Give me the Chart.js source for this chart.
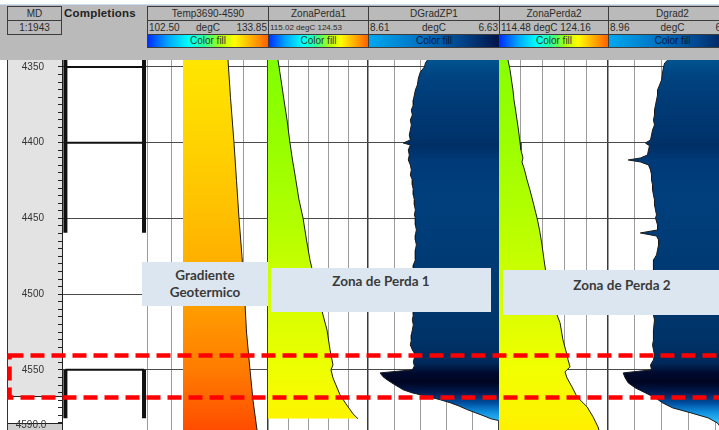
<!DOCTYPE html>
<html><head><meta charset="utf-8">
<script src="https://cdn.jsdelivr.net/npm/chart.js@4.4.1/dist/chart.umd.min.js"></script>
<style>
html,body{margin:0;padding:0;width:719px;height:430px;overflow:hidden;background:#fff;font-family:"Liberation Sans",Arial,sans-serif;}
.abs{position:absolute;}
.hb{position:absolute;border:1px solid #3c3c3c;box-sizing:border-box;font-size:10px;color:#2b2b2b;line-height:13px;text-align:center;white-space:nowrap;overflow:hidden;}
.row{display:flex;justify-content:space-between;padding:0 1px;}
.note{position:absolute;background:#dce6f1;font-family:Lato,"Open Sans",sans-serif;font-weight:bold;font-size:13.5px;color:#3a3a3a;text-align:center;line-height:17px;}
canvas{position:absolute;}
</style></head><body>
<div class="abs" style="left:0;top:4px;width:719px;height:1px;background:#c9def0"></div>
<div class="abs" style="left:0;top:5px;width:719px;height:55px;background:#bababa"></div>
<div class="abs" style="left:8px;top:60px;width:54px;height:337px;background:#e3e3e3"></div>
<div class="abs" style="left:8px;top:396px;width:54px;height:1px;background:#222"></div>
<div class="abs" style="left:7px;top:423px;width:55px;height:1px;background:#222"></div>
<div class="abs" style="left:8px;top:424px;width:54px;height:6px;background:#cfcfcf"></div>
<div class="abs" style="left:7px;top:60px;width:1px;height:370px;background:#333"></div>
<div id="hdr"></div>
<div id="charts"></div>
<div id="notes"></div>
<svg class="abs" style="left:0;top:0" width="719" height="430"><rect id="zone" x="9.5" y="355.5" width="800" height="42" fill="none" stroke="#ff0000" stroke-width="4.5" stroke-dasharray="14 7"/></svg>
<script>
// ---------------- data ----------------
const DEPTH_MIN = 4345.4, DEPTH_MAX = 4589.7;
const depthMajorStep = 50, depthMinorStep = 5;
const bottomDepthLabel = '4590.0';
const scaleLabel = '1:1943';
const trackNames = ['Temp3690-4590', 'ZonaPerda1', 'DGradZP1', 'ZonaPerda2', 'Dgrad2'];
const trackLeftValue = [102.50, 115.02, 8.61, 114.48, 8.96];
const trackRightValue = [133.85, 124.53, 6.63, 124.16, 6.98];
const trackLeftLabel = ['102.50', '115.02', '8.61', '114.48', '8.96'];
const trackRightLabel = ['133.85', '124.53', '6.63', '124.16', '6.98'];
const trackUnit = 'degC';
const fillLabel = 'Color fill';

const tempDepth = [4345.4, 4370, 4400, 4425, 4450, 4475, 4500, 4525, 4550, 4570, 4589.7];
const tempValues = [123.49, 124.13, 125.04, 125.69, 126.34, 127.11, 127.76, 128.28, 129.19, 129.96, 131.00];
const tempBase = 111.83;

const zp1Depth = [4345.4, 4358.6, 4371.8, 4385.0, 4400.2, 4411.4, 4421.3, 4437.8, 4449.7, 4464.2, 4477.4, 4497.2, 4513.7, 4523.6, 4536.8, 4546.7, 4550.0, 4555.3, 4566.5, 4572.5, 4579.0, 4582.3];
const zp1Values = [115.97, 116.26, 116.54, 116.83, 117.11, 117.35, 117.59, 117.97, 118.35, 118.68, 119.01, 119.68, 120.25, 120.63, 120.92, 121.20, 121.01, 121.20, 121.87, 122.44, 123.10, 123.58];

const dg1Depth = [4345.4, 4347.4, 4350.0, 4353.3, 4357.3, 4361.9, 4365.2, 4368.5, 4371.8, 4375.1, 4378.4, 4381.7, 4385.0, 4388.3, 4391.6, 4394.9, 4398.2, 4400.2, 4401.5, 4404.8, 4408.1, 4411.4, 4414.7, 4418.0, 4421.3, 4424.6, 4427.9, 4431.2, 4434.5, 4437.8, 4441.1, 4444.4, 4447.7, 4449.7, 4454.3, 4457.6, 4460.9, 4464.2, 4467.5, 4470.8, 4474.1, 4477.4, 4480.7, 4484.0, 4497.2, 4513.7, 4517.0, 4520.3, 4523.6, 4526.9, 4530.2, 4533.5, 4536.8, 4540.1, 4542.1, 4544.7, 4547.4, 4550.0, 4552.0, 4554.6, 4556.6, 4559.2, 4561.2, 4563.2, 4565.2, 4567.2, 4569.8, 4571.8, 4573.8, 4576.4, 4578.4, 4580.4, 4582.3, 4583.4];
const dg1Values = [7.711, 7.742, 7.757, 7.818, 7.848, 7.864, 7.894, 7.909, 7.925, 7.925, 7.955, 7.940, 7.970, 7.955, 7.970, 7.986, 7.970, 8.077, 7.970, 8.001, 7.986, 8.001, 7.970, 7.955, 7.970, 7.940, 7.940, 7.925, 7.925, 7.909, 7.909, 7.894, 7.909, 7.894, 7.894, 7.879, 7.894, 7.894, 7.879, 7.894, 7.894, 7.894, 7.925, 7.925, 7.925, 7.925, 7.940, 7.925, 7.940, 7.955, 7.955, 7.970, 7.940, 7.894, 7.909, 7.925, 7.909, 7.940, 8.427, 8.382, 8.321, 8.229, 8.153, 8.077, 7.940, 7.742, 7.513, 7.361, 7.239, 7.102, 6.980, 6.858, 6.752, 6.640];

const zp2Depth = [4345.4, 4352.0, 4358.6, 4365.2, 4371.8, 4378.4, 4385.0, 4391.6, 4400.2, 4404.8, 4410.1, 4412.7, 4418.0, 4424.6, 4431.2, 4437.8, 4444.4, 4449.7, 4457.6, 4467.5, 4477.4, 4484.0, 4497.2, 4513.7, 4518.9, 4530.2, 4540.1, 4543.4, 4548.0, 4551.3, 4555.3, 4561.2, 4567.8, 4574.4, 4581.0, 4587.6, 4589.7];
const zp2Values = [115.28, 115.46, 115.59, 115.72, 115.81, 115.95, 116.08, 116.21, 116.35, 116.43, 116.61, 116.52, 116.75, 116.97, 117.23, 117.46, 117.68, 117.86, 118.08, 118.30, 118.48, 118.61, 119.10, 119.63, 119.90, 120.16, 120.52, 120.61, 120.79, 120.34, 120.52, 120.96, 121.41, 122.30, 122.83, 123.27, 123.35];

const dg2Depth = [4345.4, 4347.4, 4350.0, 4353.3, 4358.6, 4361.9, 4365.2, 4368.5, 4371.8, 4375.1, 4378.4, 4381.7, 4385.0, 4388.3, 4391.6, 4394.9, 4398.2, 4400.2, 4402.1, 4404.8, 4408.1, 4410.1, 4411.4, 4412.7, 4414.7, 4418.0, 4421.3, 4424.6, 4427.9, 4431.2, 4434.5, 4437.8, 4441.1, 4444.4, 4447.7, 4449.7, 4454.3, 4457.6, 4459.6, 4461.6, 4464.2, 4467.5, 4470.8, 4474.1, 4477.4, 4480.7, 4484.0, 4497.2, 4513.7, 4517.0, 4523.6, 4530.2, 4533.5, 4536.8, 4540.1, 4543.4, 4546.7, 4550.0, 4552.0, 4555.3, 4558.6, 4561.9, 4565.2, 4568.5, 4571.8, 4575.1, 4578.4, 4581.7, 4585.0, 4588.3, 4589.7];
const dg2Values = [8.078, 8.123, 8.138, 8.153, 8.168, 8.198, 8.228, 8.228, 8.243, 8.258, 8.273, 8.273, 8.288, 8.273, 8.302, 8.317, 8.332, 8.407, 8.347, 8.362, 8.377, 8.482, 8.661, 8.482, 8.362, 8.332, 8.317, 8.317, 8.302, 8.302, 8.288, 8.273, 8.273, 8.258, 8.243, 8.258, 8.228, 8.228, 8.482, 8.243, 8.213, 8.213, 8.228, 8.243, 8.288, 8.288, 8.288, 8.288, 8.288, 8.273, 8.288, 8.288, 8.302, 8.288, 8.273, 8.288, 8.332, 8.317, 8.736, 8.706, 8.661, 8.557, 8.407, 8.258, 8.153, 8.004, 7.735, 7.481, 7.346, 7.286, 7.250];

const tubingIntervals = [[4345.4, 4459.5], [4550.0, 4582.0]];
const completionMarks = [4350, 4400, 4550];

const noteTexts = ['Gradiente<br>Geotermico', 'Zona de Perda 1', 'Zona de Perda 2'];

// ---------------- styles / layout ----------------
const PLOT_TOP = 60, PLOT_H = 370;
const trackLeft = [147, 268, 368, 499, 608];
const trackWidth = [121, 100, 131, 109, 134];
const hdrWidth = [122, 101, 132, 110, 129];
const rowMode = ['spread', 'small', 'spread', 'compact', 'spread'];
const barKind = ['rainbow', 'rainbow', 'blue', 'rainbow', 'blue'];
const rainbow = 'linear-gradient(to right,#0030ff 0%,#00a8ff 17%,#00ffff 34%,#30ff90 48%,#a8ff10 60%,#ffff00 72%,#ffb000 86%,#ff6000 100%)';
const blueBar = 'linear-gradient(to right,#00a8f0 0%,#0078c8 35%,#00468e 70%,#001448 100%)';
const tempStops = [[4345, '#ffe600'], [4400, '#ffd300'], [4450, '#ffbe00'], [4500, '#ffa400'], [4550, '#ff7c00'], [4590, '#ff4c00']];
const zp1Stops = [[4345, '#80ff00'], [4400, '#96ff00'], [4450, '#b0ff00'], [4500, '#d2ff00'], [4550, '#eeff00'], [4583, '#fff400']];
const zp2Stops = [[4345, '#88ff00'], [4400, '#9cff00'], [4450, '#b4ff00'], [4500, '#d4ff00'], [4550, '#f2ff00'], [4590, '#fff000']];
const dgStops = [[4345, '#00538f'], [4356, '#004481'], [4370, '#003c78'], [4392, '#00356f'], [4402, '#002f66'], [4412, '#003a78'], [4440, '#003f7c'], [4470, '#003b76'], [4500, '#00386f'], [4530, '#003368'], [4545, '#002a5c'], [4552, '#000a2e'], [4558, '#000520'], [4565, '#001a50'], [4572, '#0050a0'], [4578, '#1090e0'], [4586, '#40c8f8']];

// ---------------- header ----------------
const hdr = document.getElementById('hdr');
function box(l, t, w, h, html, extra) {
  const d = document.createElement('div');
  d.className = 'hb';
  d.style.cssText = `left:${l}px;top:${t}px;width:${w}px;height:${h}px;` + (extra || '');
  d.innerHTML = html;
  hdr.appendChild(d);
  return d;
}
box(7, 6, 55, 15, 'MD');
box(7, 20, 55, 15, scaleLabel);
const comp = document.createElement('div');
comp.className = 'abs';
comp.style.cssText = 'left:64px;top:6px;font-weight:bold;font-size:11.5px;letter-spacing:0.2px;color:#222;line-height:14px;';
comp.textContent = 'Completions';
hdr.appendChild(comp);
trackNames.forEach((n, i) => {
  const l = trackLeft[i], w = hdrWidth[i];
  box(l, 6, w, 15, n);
  let row;
  if (rowMode[i] === 'spread') {
    row = `<div class="row"><span>${trackLeftLabel[i]}</span><span>${trackUnit}</span><span>${trackRightLabel[i]}</span></div>`;
    box(l, 20, w, 15, row);
  } else if (rowMode[i] === 'small') {
    row = `${trackLeftLabel[i]} ${trackUnit} ${trackRightLabel[i]}`;
    box(l, 20, w, 15, row, 'font-size:8px;text-align:left;padding-left:1px;');
  } else {
    row = `${trackLeftLabel[i]} ${trackUnit} ${trackRightLabel[i]}`;
    box(l, 20, w, 15, row, 'text-align:left;padding-left:1px;');
  }
  box(l, 34, w, 14, fillLabel, `background:${barKind[i] === 'rainbow' ? rainbow : blueBar};line-height:12px;color:${barKind[i] === 'rainbow' ? '#2a3a2a' : '#00173a'};`);
});

// ---------------- charts ----------------
const host = document.getElementById('charts');
function makeCanvas(l, w) {
  const c = document.createElement('canvas');
  c.width = w; c.height = PLOT_H;
  c.style.left = l + 'px'; c.style.top = PLOT_TOP + 'px';
  c.style.width = w + 'px'; c.style.height = PLOT_H + 'px';
  host.appendChild(c);
  return c;
}
function gradientFor(stops) {
  return function (ctx) {
    const chart = ctx.chart, area = chart.chartArea;
    if (!area) return 'rgba(0,0,0,0)';
    const ys = chart.scales.y;
    const g = chart.ctx.createLinearGradient(0, area.top, 0, area.bottom);
    for (const [d, c] of stops) {
      let p = (ys.getPixelForValue(d) - area.top) / (area.bottom - area.top);
      g.addColorStop(Math.min(1, Math.max(0, p)), c);
    }
    return g;
  };
}
function depthScaleHidden() {
  return {
    type: 'linear', min: DEPTH_MIN, max: DEPTH_MAX, reverse: true,
    afterFit: s => { s.width = 0; s.paddingTop = 0; s.paddingBottom = 0; },
    ticks: { display: false, stepSize: depthMajorStep, includeBounds: false, autoSkip: false },
    grid: { color: c => (c.tick && Math.round(c.tick.value) % depthMajorStep === 0) ? '#4a4a4a' : 'rgba(0,0,0,0)', lineWidth: 1, drawTicks: false },
    border: { display: false }
  };
}
function valueScale(i) {
  const a = trackLeftValue[i], b = trackRightValue[i];
  return {
    type: 'linear', position: 'top', min: Math.min(a, b), max: Math.max(a, b), reverse: a > b,
    afterFit: s => { s.height = 0; s.paddingLeft = 0; s.paddingRight = 0; },
    ticks: { display: false, count: 6 },
    grid: {
      color: c => (c.index === 0 || c.index === 5) ? '#3a3a3a' : '#9c9c9c',
      lineWidth: c => (c.index === 0 || c.index === 5) ? 1.5 : 1,
      drawTicks: false
    },
    border: { display: false }
  };
}
function trackChart(i, depth, values, fillValue, stops) {
  const c = makeCanvas(trackLeft[i], trackWidth[i]);
  return new Chart(c, {
    type: 'line',
    data: {
      datasets: [{
        data: depth.map((d, k) => ({ x: values[k], y: d })),
        borderColor: '#1a1a1a', borderWidth: 1, pointRadius: 0, tension: 0,
        fill: { value: fillValue },
        backgroundColor: gradientFor(stops)
      }]
    },
    options: {
      indexAxis: 'y', responsive: false, animation: false, devicePixelRatio: 1,
      layout: { padding: 0 },
      plugins: { legend: { display: false }, tooltip: { enabled: false } },
      scales: { x: valueScale(i), y: depthScaleHidden() }
    }
  });
}

// Completions + depth axis
(function () {
  const c = makeCanvas(8, 139);
  const tx = [0.04, 0.965];
  const ds = [];
  tubingIntervals.forEach(([a, b]) => {
    tx.forEach(x => {
      ds.push({ data: [{ x, y: a }, { x, y: b }], borderColor: '#111', borderWidth: 4, pointRadius: 0 });
      ds.push({ data: [{ x, y: a + 1 }, { x, y: b - 1 }], borderColor: '#ffffff', borderWidth: 1.5, borderDash: [3, 4], pointRadius: 0 });
    });
  });
  completionMarks.forEach(d => {
    ds.push({ data: [{ x: tx[0], y: d }, { x: tx[1], y: d }], borderColor: '#111', borderWidth: 2, pointRadius: 0 });
  });
  new Chart(c, {
    type: 'line',
    data: { datasets: ds },
    options: {
      responsive: false, animation: false, devicePixelRatio: 1,
      layout: { padding: 0 },
      plugins: { legend: { display: false }, tooltip: { enabled: false } },
      scales: {
        x: { type: 'linear', min: 0, max: 1, display: false },
        y: {
          type: 'linear', position: 'left', min: DEPTH_MIN, max: DEPTH_MAX, reverse: true,
          afterFit: s => { s.width = 54; s.paddingTop = 0; s.paddingBottom = 0; },
          ticks: {
            stepSize: depthMinorStep, includeBounds: false, autoSkip: false, padding: 14,
            color: '#333', font: { family: 'Liberation Sans', size: 10 },
            callback: v => (Math.round(v) % depthMajorStep === 0) ? String(Math.round(v)) : ''
          },
          grid: {
            color: c => (c.tick && Math.round(c.tick.value) % depthMajorStep === 0) ? '#4a4a4a' : 'rgba(0,0,0,0)',
            tickColor: '#222', tickLength: 4, lineWidth: 1, drawTicks: true
          },
          border: { display: true, color: '#222', width: 1 }
        }
      }
    }
  });
})();

trackChart(0, tempDepth, tempValues, tempBase, tempStops);
trackChart(1, zp1Depth, zp1Values, trackLeftValue[1], zp1Stops);
trackChart(2, dg1Depth, dg1Values, trackRightValue[2], dgStops);
trackChart(3, zp2Depth, zp2Values, trackLeftValue[3], zp2Stops);
trackChart(4, dg2Depth, dg2Values, trackRightValue[4], dgStops);

// bottom depth label
const bl = document.createElement('div');
bl.className = 'abs';
bl.style.cssText = 'left:8px;top:419px;width:46px;text-align:center;font-size:10px;color:#333;';
bl.textContent = bottomDepthLabel;
document.body.appendChild(bl);

// annotation boxes
const notes = document.getElementById('notes');
const noteBoxes = [
  { l: 142, t: 262, w: 126, h: 44, pt: 5 },
  { l: 271, t: 268, w: 220, h: 44, pt: 5 },
  { l: 503, t: 270, w: 238, h: 45, pt: 7 }
];
noteTexts.forEach((t, i) => {
  const b = noteBoxes[i];
  const d = document.createElement('div');
  d.className = 'note';
  d.style.cssText = `left:${b.l}px;top:${b.t}px;width:${b.w}px;height:${b.h}px;padding-top:${b.pt}px;box-sizing:border-box;`;
  d.innerHTML = t;
  notes.appendChild(d);
});
</script>
</body></html>
